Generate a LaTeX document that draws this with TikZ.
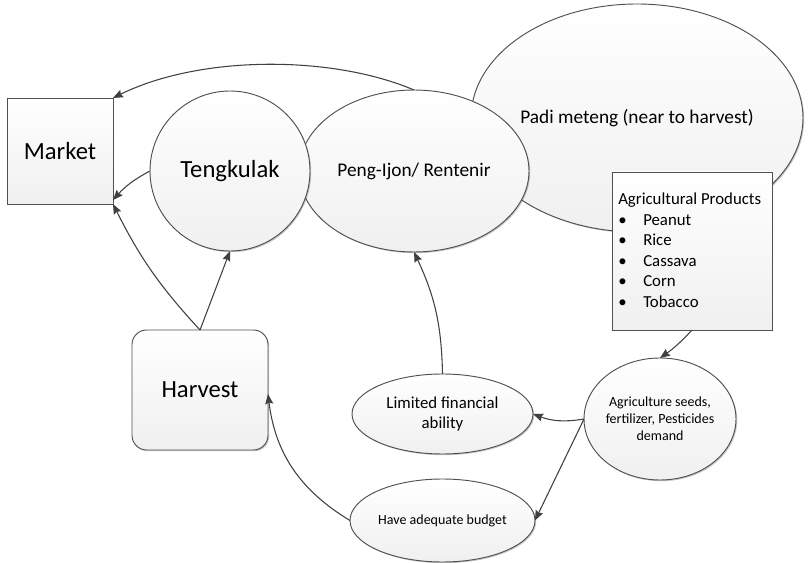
\documentclass[tikz,border=0pt]{standalone}
\usepackage{fontspec}
\setmainfont{Carlito}
\usetikzlibrary{shapes.geometric,arrows.meta,shadows}
\definecolor{edgegray}{RGB}{80,80,80}
\definecolor{arrowgray}{RGB}{64,64,64}
\begin{document}
\begin{tikzpicture}[x=0.75pt,y=-0.75pt,
  shapebase/.style={draw=edgegray,line width=0.7pt,top color=white,bottom color=black!6,
    inner sep=0pt,outer sep=0pt,
    drop shadow={shadow xshift=0.9pt,shadow yshift=-0.9pt,opacity=0.22,fill=black}},
  box/.style={shapebase,rectangle},
  oval/.style={shapebase,ellipse},
  bigtxt/.style={font=\fontsize{18.5}{22}\selectfont},
  midtxt/.style={font=\fontsize{14.5}{17}\selectfont},
  listtxt/.style={font=\fontsize{12.6}{15}\selectfont},
  smalltxt/.style={font=\fontsize{10.5}{12.75}\selectfont},
  arr/.style={draw=arrowgray,line width=0.8pt,-{Stealth[length=7.5pt,width=6pt,inset=1pt]}}]

\useasboundingbox (0,0) rectangle (808,563);

% background ellipse and the product list box lying on it
\node[oval,midtxt,minimum width=249pt,minimum height=171pt] (padi) at (637,118) {Padi meteng (near to harvest)};
\node[box,minimum width=120pt,minimum height=118.5pt] (agp) at (692,251) {};
\node[listtxt,anchor=base west,inner sep=0pt] (agptitle) at (618,205) {Agricultural Products};
\foreach \t [count=\i] in {Peanut,Rice,Cassava,Corn,Tobacco}{
  \node[listtxt,anchor=base west,inner sep=0pt] (dot\i) at (618,205+20.5*\i) {\textbullet};
  \node[listtxt,anchor=base west,inner sep=0pt] (item\i) at (643,205+20.5*\i) {\t};
}

% middlemen
\node[oval,midtxt,minimum width=172.5pt,minimum height=121.5pt] (peng) at (414,171) {Peng-Ijon/ Rentenir};
\node[oval,bigtxt,minimum width=120pt,minimum height=120pt] (tengk) at (230,171) {Tengkulak};

% market and harvest
\node[box,bigtxt,minimum width=79.5pt,minimum height=79.5pt] (market) at (60,151) {Market};
\node[box,bigtxt,rounded corners=11pt,minimum width=102pt,minimum height=90pt] (harvest) at (200,390) {Harvest};

% farmer situation
\node[oval,listtxt,align=center,minimum width=135.75pt,minimum height=60pt] (limited) at (442.5,414) {Limited financial\\ability};
\node[oval,smalltxt,align=center,inner xsep=-3pt,minimum width=114pt,minimum height=91.5pt] (agri) at (660,419) {Agriculture seeds,\\fertilizer, Pesticides\\demand};
\node[oval,smalltxt,minimum width=138.75pt,minimum height=62.25pt] (budget) at (442.5,520.5) {Have adequate budget};

% connectors
\draw[arr] (peng.north) .. controls +(-82,-35) and +(87,-43) .. (market.north east);
\draw[arr] (tengk.west) to[bend right=10] ([yshift=3pt]market.south east);
\draw[arr] (harvest.north) to[bend left=8] (market.south east);
\draw[arr] (harvest.north) -- (tengk.south);
\draw[arr] (limited.north) to[bend right=12] (peng.south);
\draw[arr] (agp.south) to[bend left=6] (agri.north);
\draw[arr] (agri.west) to[bend left=15] (limited.east);
\draw[arr] (agri.west) -- (budget.east);
\draw[arr] (budget.west) to[bend left=26] ([yshift=-3pt]harvest.east);
\end{tikzpicture}
\end{document}
